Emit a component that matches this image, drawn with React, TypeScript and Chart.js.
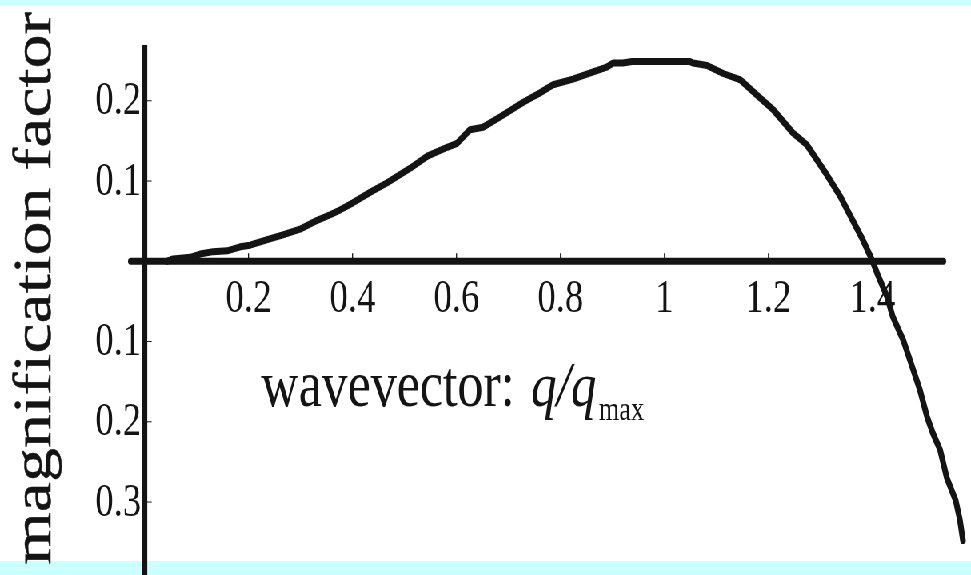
import React, { useEffect, useRef } from "react";
import { Chart, registerables } from "chart.js";

Chart.register(...registerables);

// ---- data ----
const qValues = [
  0.043, 0.055, 0.088, 0.107, 0.132, 0.159, 0.184, 0.203, 0.236, 0.266,
  0.299, 0.332, 0.357, 0.376, 0.401, 0.434, 0.467, 0.511, 0.544, 0.582,
  0.601, 0.626, 0.651, 0.684, 0.728, 0.761, 0.786, 0.824, 0.863, 0.889,
  0.901, 0.92, 0.938, 1.049, 1.055, 1.082, 1.113, 1.146, 1.178, 1.209,
  1.247, 1.274, 1.312, 1.338, 1.362, 1.382, 1.399, 1.409, 1.428, 1.439,
  1.459, 1.472, 1.491, 1.505, 1.516, 1.53, 1.543, 1.56, 1.568, 1.574,
];
const magnification = [
  0.0, 0.003, 0.005, 0.009, 0.012, 0.013, 0.018, 0.02, 0.027, 0.033,
  0.04, 0.051, 0.058, 0.064, 0.073, 0.086, 0.098, 0.116, 0.131, 0.142,
  0.147, 0.164, 0.167, 0.18, 0.198, 0.21, 0.22, 0.227, 0.236, 0.242,
  0.247, 0.247, 0.249, 0.249, 0.247, 0.244, 0.234, 0.226, 0.207, 0.189,
  0.16, 0.145, 0.108, 0.081, 0.051, 0.026, 0.002, -0.015, -0.044, -0.069,
  -0.098, -0.123, -0.16, -0.194, -0.214, -0.235, -0.27, -0.298, -0.322, -0.348,
];
const xTickValues = [0.2, 0.4, 0.6, 0.8, 1, 1.2, 1.4];
const xTickLabels = ["0.2", "0.4", "0.6", "0.8", "1", "1.2", "1.4"];
const yTickValues = [0.2, 0.1, -0.1, -0.2, -0.3];
const yTickLabels = ["0.2", "0.1", "0.1", "0.2", "0.3"];
const xTitleMain = "wavevector:";
const xTitleVar = "q/q";
const xTitleSub = "max";
const yTitle = "magnification factor";

// axis ranges (axis line extents)
const X_MIN = -0.0317;
const X_MAX = 1.5417;
const Y_MIN = -0.3909;
const Y_MAX = 0.2695;

// ---- layout (logical canvas, squeezed horizontally by SX) ----
const W = 1214;
const H = 575;
const SX = 971 / W;
const INK = "#141414";
const SERIF = '"Liberation Serif", "Times New Roman", serif';

const customPlugin = {
  id: "customAxes",
  beforeDraw(chart: any) {
    const ctx = chart.ctx;
    ctx.save();
    ctx.fillStyle = "#ffffff";
    ctx.fillRect(0, 0, W, H);
    ctx.fillStyle = "#CCFFFF";
    ctx.fillRect(0, 0, W, 5);
    ctx.fillRect(0, 561, W, H - 561);
    ctx.restore();
  },
  beforeDatasetsDraw(chart: any) {
    const ctx = chart.ctx;
    const xs = chart.scales.x;
    const ys = chart.scales.y;
    const area = chart.chartArea;
    const x0 = xs.getPixelForValue(0);
    const y0 = ys.getPixelForValue(0);
    ctx.save();
    ctx.strokeStyle = INK;
    ctx.fillStyle = INK;

    // x axis
    ctx.lineWidth = 7;
    ctx.lineCap = "round";
    ctx.beginPath();
    ctx.moveTo(area.left + 3.5, y0);
    ctx.lineTo(area.right - 3.5, y0);
    ctx.stroke();

    // y axis
    ctx.lineCap = "butt";
    ctx.lineWidth = 7;
    ctx.beginPath();
    ctx.moveTo(x0, area.top);
    ctx.lineTo(x0, area.bottom);
    ctx.stroke();

    // tick marks
    ctx.lineWidth = 1.3;
    xTickValues.forEach((v) => {
      const px = xs.getPixelForValue(v);
      ctx.beginPath();
      ctx.moveTo(px, y0 - 3);
      ctx.lineTo(px, y0 - 8);
      ctx.stroke();
    });
    ctx.lineWidth = 1;
    yTickValues.forEach((v) => {
      const py = ys.getPixelForValue(v);
      ctx.beginPath();
      ctx.moveTo(x0 + 3, py);
      ctx.lineTo(x0 + 9, py);
      ctx.stroke();
    });

    // tick labels
    ctx.font = `46px ${SERIF}`;
    ctx.textBaseline = "alphabetic";
    ctx.textAlign = "center";
    xTickValues.forEach((v, i) => {
      ctx.fillText(xTickLabels[i], xs.getPixelForValue(v), 312);
    });
    ctx.textAlign = "right";
    yTickValues.forEach((v, i) => {
      ctx.fillText(yTickLabels[i], x0 - 4, ys.getPixelForValue(v) + 13.5);
    });

    // x title
    ctx.textAlign = "left";
    ctx.font = `65px ${SERIF}`;
    ctx.fillText(xTitleMain, 261 / SX, 406);
    ctx.font = `italic 64px ${SERIF}`;
    const varX = 531 / SX;
    ctx.fillText(xTitleVar, varX, 406);
    const w = ctx.measureText(xTitleVar).width;
    ctx.font = `33px ${SERIF}`;
    ctx.fillText(xTitleSub, varX + w + 3, 420);

    // y title
    ctx.font = `68px ${SERIF}`;
    ctx.textAlign = "center";
    ctx.translate(50 / SX, 288.5);
    ctx.rotate(-Math.PI / 2);
    ctx.fillText(yTitle, 0, 0);
    ctx.lineWidth = 0.5;
    ctx.strokeText(yTitle, 0, 0);
    ctx.restore();
  },
};

export default function App() {
  const canvasRef = useRef<HTMLCanvasElement | null>(null);

  useEffect(() => {
    const canvas = canvasRef.current;
    if (!canvas) return;
    const chart = new Chart(canvas, {
      type: "line",
      data: {
        datasets: [
          {
            data: qValues.map((q, i) => ({ x: q, y: magnification[i] })),
            borderColor: INK,
            borderWidth: 7,
            pointRadius: 0,
            tension: 0,
            fill: false,
            clip: false as any,
            borderCapStyle: "round",
            borderJoinStyle: "round",
          },
        ],
      },
      options: {
        responsive: false,
        animation: false,
        devicePixelRatio: 1,
        layout: { padding: { left: 160, right: 31, top: 45, bottom: 0 } },
        scales: {
          x: {
            type: "linear",
            display: false,
            bounds: "data",
            afterDataLimits: (s: any) => {
              s.min = X_MIN;
              s.max = X_MAX;
            },
          },
          y: {
            type: "linear",
            display: false,
            bounds: "data",
            afterDataLimits: (s: any) => {
              s.min = Y_MIN;
              s.max = Y_MAX;
            },
          },
        },
        plugins: {
          legend: { display: false },
          tooltip: { enabled: false },
        },
      },
      plugins: [customPlugin],
    });
    return () => chart.destroy();
  }, []);

  return (
    <div
      style={{
        position: "fixed",
        left: 0,
        top: 0,
        width: W,
        height: H,
        transform: `scaleX(${SX})`,
        transformOrigin: "0 0",
        background: "#fff",
      }}
    >
      <canvas ref={canvasRef} width={W} height={H} />
    </div>
  );
}
